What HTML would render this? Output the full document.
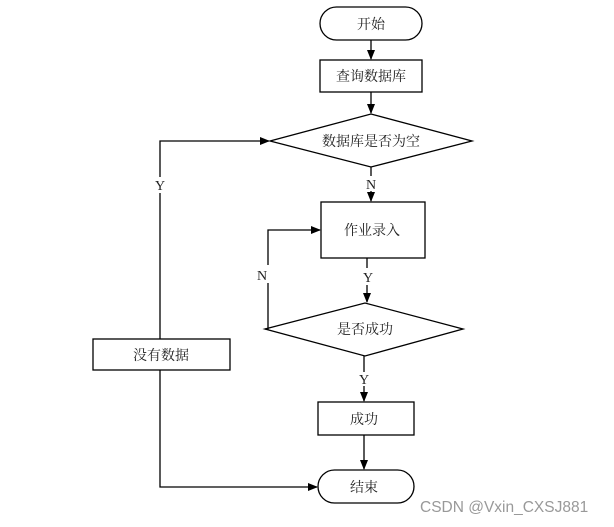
<!DOCTYPE html>
<html><head><meta charset="utf-8"><style>
body{margin:0;background:#fff;width:614px;height:522px;overflow:hidden}
svg text{font-family:"Liberation Serif","Noto Serif CJK SC",serif;font-size:14px;fill:#222}
</style></head><body>
<svg width="614" height="522" viewBox="0 0 614 522">
<defs><marker id="a" markerWidth="10" markerHeight="8" refX="9" refY="4" orient="auto" markerUnits="userSpaceOnUse"><path d="M0,0 L10,4 L0,8 z" fill="#000"/></marker></defs>
<g stroke="#000" stroke-width="1.3" fill="none">
<rect x="320" y="7" width="102" height="33" rx="16.5" fill="#fff"/>
<rect x="320" y="60" width="102" height="32"/>
<polygon points="270,141 371,114 472,141 371,167"/>
<rect x="321" y="202" width="104" height="56"/>
<polygon points="265,329 365,303 463,329 365,356"/>
<rect x="93" y="339" width="137" height="31"/>
<rect x="318" y="402" width="96" height="33"/>
<rect x="318" y="470" width="96" height="33" rx="16.5"/>
<line x1="371" y1="40" x2="371" y2="59" marker-end="url(#a)"/>
<line x1="371" y1="92" x2="371" y2="113" marker-end="url(#a)"/>
<line x1="371" y1="167" x2="371" y2="176"/>
<line x1="371" y1="191" x2="371" y2="201" marker-end="url(#a)"/>
<line x1="367" y1="258" x2="367" y2="268"/>
<line x1="367" y1="285" x2="367" y2="302" marker-end="url(#a)"/>
<polyline points="265,329 268,329 268,230 320,230" marker-end="url(#a)"/>
<line x1="364" y1="356" x2="364" y2="372"/>
<line x1="364" y1="386" x2="364" y2="401" marker-end="url(#a)"/>
<line x1="364" y1="435" x2="364" y2="469" marker-end="url(#a)"/>
<polyline points="160,339 160,193"/>
<polyline points="160,177 160,141 269,141" marker-end="url(#a)"/>
<polyline points="160,370 160,487 317,487" marker-end="url(#a)"/>
</g>
<rect x="257" y="265" width="14" height="18" fill="#fff"/>
<g text-anchor="middle">
<text x="371" y="29">开始</text>
<text x="371" y="81">查询数据库</text>
<text x="371" y="146">数据库是否为空</text>
<text x="371" y="189">N</text>
<text x="372" y="235">作业录入</text>
<text x="368" y="282">Y</text>
<text x="262" y="280">N</text>
<text x="365" y="334">是否成功</text>
<text x="364" y="384">Y</text>
<text x="161" y="360">没有数据</text>
<text x="364" y="424">成功</text>
<text x="364" y="492">结束</text>
<text x="160" y="190">Y</text>
</g>
<text x="420" y="512" style="font-family:'Liberation Sans',sans-serif;font-size:15.5px;fill:#999">CSDN @Vxin_CXSJ881</text>
</svg>
</body></html>
